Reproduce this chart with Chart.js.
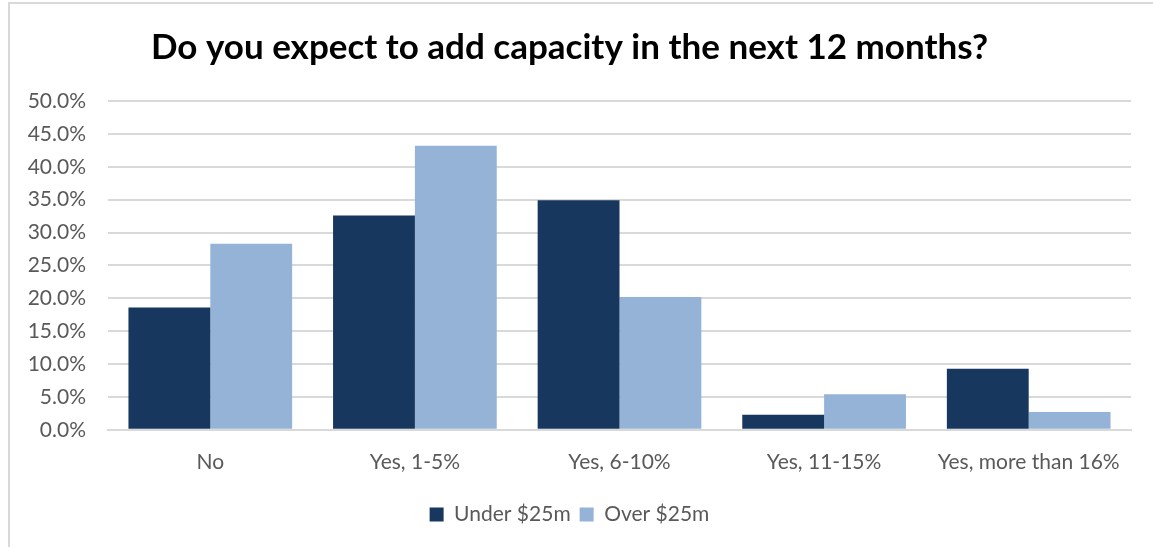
<!DOCTYPE html>
<html>
<head>
<meta charset="utf-8">
<script src="https://cdn.jsdelivr.net/npm/chart.js@4.4.1/dist/chart.umd.min.js"></script>
<style>
  html, body { margin: 0; padding: 0; background: #fff; }
  #wrap { position: relative; width: 1153px; height: 547px; overflow: hidden; }
  #frame { position: absolute; left: 8px; top: 2px; width: 1300px; height: 700px;
           border-left: 2px solid #d9d9d9; border-top: 2px solid #d9d9d9; }
  #capChart { position: absolute; left: 0; top: 0; }
</style>
</head>
<body>
<div id="wrap">
  <div id="frame"></div>
  <canvas id="capChart" width="1153" height="547"></canvas>
</div>
<script>
const categories = ['No', 'Yes, 1-5%', 'Yes, 6-10%', 'Yes, 11-15%', 'Yes, more than 16%'];
const underValues = [18.6, 32.6, 34.9, 2.3, 9.3];
const overValues  = [28.3, 43.2, 20.2, 5.4, 2.7];
const seriesNames = ['Under $25m', 'Over $25m'];

const FONT = 'Lato, "Open Sans", sans-serif';
const TEXT = '#595959';

const ctx = document.querySelector('#capChart');
let myChart = new Chart(ctx, {
    type: 'bar',
    data: {
        labels: categories,
        datasets: [
            {
                label: seriesNames[0],
                data: underValues,
                backgroundColor: '#17375E',
                categoryPercentage: 0.8,
                barPercentage: 1.0
            },
            {
                label: seriesNames[1],
                data: overValues,
                backgroundColor: '#95B3D7',
                categoryPercentage: 0.8,
                barPercentage: 1.0
            }
        ]
    },
    options: {
        responsive: false,
        animation: false,
        layout: {
            padding: { left: 8, right: 22, top: 0, bottom: 12 }
        },
        scales: {
            x: {
                grid: { display: false, drawTicks: false },
                border: { display: true, color: '#d9d9d9', width: 2 },
                ticks: {
                    color: TEXT,
                    font: { family: FONT, size: 21 },
                    padding: 20
                }
            },
            y: {
                min: 0,
                max: 50,
                afterFit(scale) { scale.width = 100; },
                grid: { color: '#d9d9d9', lineWidth: 2, drawTicks: false },
                border: { display: false },
                ticks: {
                    stepSize: 5,
                    color: TEXT,
                    padding: 22,
                    font: { family: FONT, size: 21 },
                    callback: (v) => v.toFixed(1) + '%'
                }
            }
        },
        plugins: {
            title: {
                display: true,
                text: 'Do you expect to add capacity in the next 12 months?',
                color: '#000',
                font: { family: FONT, size: 35, weight: 'bold' },
                padding: { top: 27, bottom: 32 }
            },
            legend: {
                position: 'bottom',
                labels: {
                    color: TEXT,
                    font: { family: FONT, size: 21 },
                    boxWidth: 14,
                    boxHeight: 14,
                    padding: 9
                }
            },
            tooltip: { enabled: false }
        }
    }
});
</script>
</body>
</html>
